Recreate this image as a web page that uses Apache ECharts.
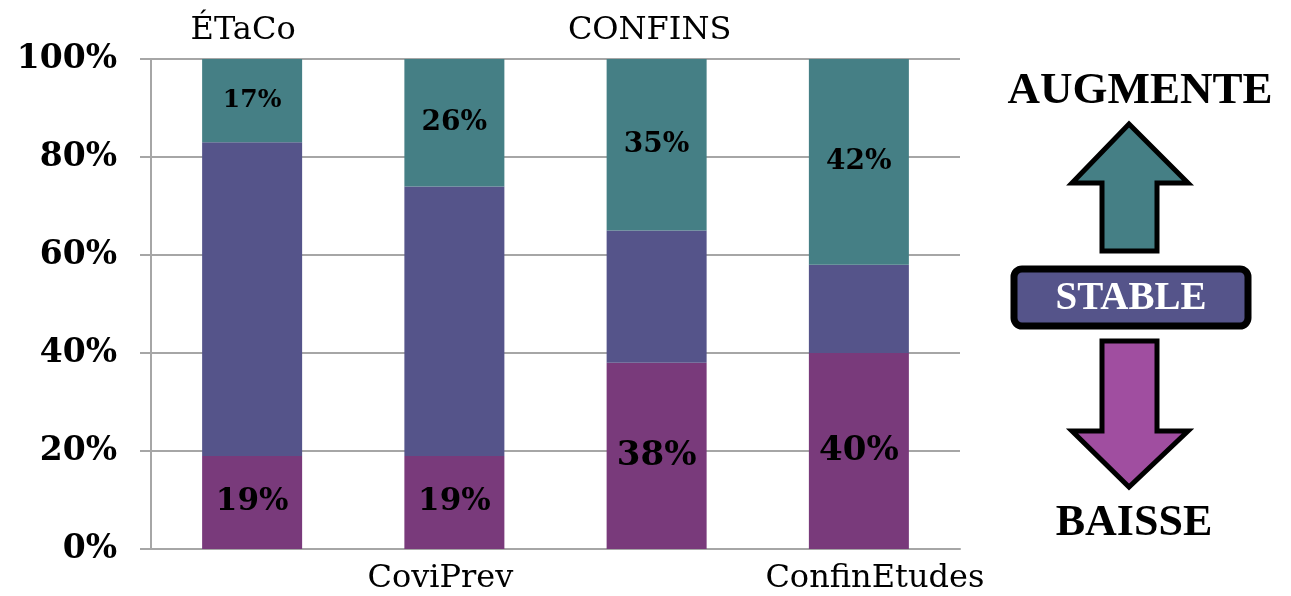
<!DOCTYPE html>
<html>
<head>
<meta charset="utf-8">
<script src="https://cdn.jsdelivr.net/npm/echarts@6/dist/echarts.min.js"></script>
<style>html,body{margin:0;padding:0;background:#fff;}#c{width:1291px;height:596px;}</style>
</head>
<body>
<div id="c"></div>
<script>
var categories = ['ÉTaCo', 'CoviPrev', 'CONFINS', 'ConfinEtudes'];
var topLabels = ['ÉTaCo', '', 'CONFINS', ''];
var bottomLabels = ['', 'CoviPrev', '', 'ConfinEtudes'];
var baisse = [19, 19, 38, 40];
var stable = [64, 55, 27, 18];
var augmente = [17, 26, 35, 42];
var yTicks = [0, 20, 40, 60, 80, 100];

var C_AUG = '#457F85', C_STA = '#55548A', C_BAI = '#793A7B', C_BAI_ARROW = '#A04EA0';
var serif = 'DejaVu Serif';

var baisseSizes = [31, 31, 34, 34];
var augSizes = [25, 28, 28, 28];

function items(vals, sizes) {
  return vals.map(function (v, i) {
    return { value: v, label: { fontSize: sizes[i] } };
  });
}

var topShift = [-9, 0, -7, 0];
var bottomShift = [0, -14, 0, 16];
function axisItems(labels, shifts) {
  return labels.map(function (t, i) {
    var s = shifts[i];
    return { value: t, textStyle: { padding: s < 0 ? [0, -2 * s, 0, 0] : [0, 0, 0, 2 * s] } };
  });
}

var chart = echarts.init(document.getElementById('c'));
chart.setOption({
  animation: false,
  grid: { left: 151, top: 59, width: 809, height: 490, containLabel: false },
  xAxis: [
    {
      type: 'category', position: 'bottom', data: axisItems(bottomLabels, bottomShift),
      axisLine: { show: true, lineStyle: { color: '#A6A6A6', width: 2 } },
      axisTick: { show: false },
      axisLabel: { fontFamily: serif, fontSize: 32, color: '#000', margin: 14, interval: 0 }
    },
    {
      type: 'category', position: 'top', data: axisItems(topLabels, topShift),
      axisLine: { show: false }, axisTick: { show: false },
      axisLabel: { fontFamily: serif, fontSize: 32, color: '#000', margin: 12, interval: 0 }
    }
  ],
  yAxis: {
    type: 'value', min: 0, max: 100, interval: 20,
    axisLine: { show: true, lineStyle: { color: '#A6A6A6', width: 2 } },
    axisTick: { show: true, length: 11, lineStyle: { color: '#A6A6A6', width: 2 } },
    splitLine: { show: true, lineStyle: { color: '#A6A6A6', width: 2 } },
    axisLabel: { formatter: '{value}%', fontFamily: serif, fontWeight: 'bold', fontSize: 33, color: '#000', margin: 34 }
  },
  series: [
    {
      name: 'Baisse', type: 'bar', stack: 's', barWidth: 100, data: items(baisse, baisseSizes),
      itemStyle: { color: C_BAI },
      label: { show: true, position: 'inside', formatter: '{c}%', fontFamily: serif, fontWeight: 'bold', color: '#000' }
    },
    {
      name: 'Stable', type: 'bar', stack: 's', barWidth: 100, data: stable,
      itemStyle: { color: C_STA }, label: { show: false }
    },
    {
      name: 'Augmente', type: 'bar', stack: 's', barWidth: 100, data: items(augmente, augSizes),
      itemStyle: { color: C_AUG },
      label: { show: true, position: 'inside', formatter: '{c}%', fontFamily: serif, fontWeight: 'bold', color: '#000' }
    }
  ],
  graphic: [
    { type: 'text', x: 1140, y: 91, style: { text: 'AUGMENTE', font: 'bold 45px "Liberation Serif"', fill: '#000', textAlign: 'center', textVerticalAlign: 'middle' } },
    { type: 'polygon', shape: { points: [[1129, 124], [1188, 183], [1157, 183], [1157, 251], [1102, 251], [1102, 183], [1072, 183]] },
      style: { fill: C_AUG, stroke: '#000', lineWidth: 5, lineJoin: 'miter' } },
    { type: 'rect', shape: { x: 1014, y: 269, width: 234, height: 57, r: 8 },
      style: { fill: C_STA, stroke: '#000', lineWidth: 7 } },
    { type: 'text', x: 1131, y: 299, style: { text: 'STABLE', font: 'bold 39px "Liberation Serif"', fill: '#fff', textAlign: 'center', textVerticalAlign: 'middle' } },
    { type: 'polygon', shape: { points: [[1102, 341], [1157, 341], [1157, 431], [1188, 431], [1129, 487], [1072, 431], [1102, 431]] },
      style: { fill: C_BAI_ARROW, stroke: '#000', lineWidth: 5, lineJoin: 'miter' } },
    { type: 'text', x: 1134, y: 524, style: { text: 'BAISSE', font: 'bold 44px "Liberation Serif"', fill: '#000', textAlign: 'center', textVerticalAlign: 'middle' } }
  ]
});
</script>
</body>
</html>
